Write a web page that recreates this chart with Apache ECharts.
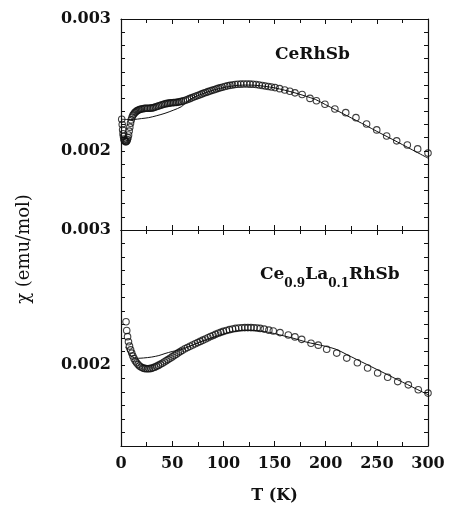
<!DOCTYPE html>
<html>
<head>
<meta charset="utf-8">
<script src="https://cdn.jsdelivr.net/npm/echarts@6/dist/echarts.min.js"></script>
<style>html,body{margin:0;padding:0;background:#fff}#c{width:450px;height:517px}</style>
</head>
<body>
<div id="c"></div>
<script>
// CeRhSb measured points (T in K, chi in emu/mol)
var topT = [0.7,1.2,1.6,2.0,2.4,2.8,3.3,3.8,4.4,5.0,5.6,6.2,6.8,7.4,8.0,8.6,9.3,10.0,10.8,11.6,12.5,13.5,14.5,15.5,16.6,17.7,18.8,20,21.5,23,24.5,26,27.5,29,30.5,32,33.5,35,36.5,38,39.5,41,42.5,44,45.5,47,48.5,50,51.5,53,54.5,56,57.5,59,61,63,65,67,69,71,73,75,77,79,81,83,85,87,89,91,93,95,97,99,101.5,104,106.5,109,111.5,114,117,120,123,126,129,132,135,138,141,144,147,150.5,155,160,165,170,177,184.7,191,199.3,209,219.6,229.6,240,249.9,259.6,269.4,279.8,289.9,300];
var topChi = [0.00224,0.0022,0.00216,0.00213,0.00211,0.00209,0.00208,0.002075,0.00207,0.00207,0.002075,0.002085,0.0021,0.00212,0.00215,0.00218,0.00221,0.002235,0.002255,0.00227,0.00228,0.00229,0.002297,0.002303,0.002308,0.002312,0.002316,0.002318,0.00232,0.002322,0.002323,0.002323,0.002323,0.002324,0.002326,0.002328,0.002332,0.002336,0.00234,0.002344,0.002348,0.002352,0.002355,0.002358,0.00236,0.002362,0.002364,0.002365,0.002366,0.002367,0.002368,0.00237,0.002372,0.002375,0.002379,0.002384,0.00239,0.002396,0.002402,0.002408,0.002414,0.00242,0.002426,0.002432,0.002438,0.002443,0.002449,0.002454,0.002459,0.002464,0.002469,0.002474,0.002479,0.002483,0.002488,0.002493,0.002497,0.0025,0.002503,0.002505,0.002506,0.002507,0.002507,0.002506,0.002505,0.002503,0.0025,0.002496,0.002492,0.002488,0.002484,0.00248,0.002472,0.002462,0.002452,0.00244,0.002427,0.002398,0.00238,0.002353,0.002318,0.00229,0.002252,0.002204,0.002159,0.002113,0.002076,0.002045,0.002015,0.001983];
// CeRhSb calculated curve
var topFitT = [0,6,12,20,27,35,43,51,59,65,70,80,90,100,110,120,130,140,150,160,170,180,190,200,210,220,230,240,250,260,270,280,290,300];
var topFitChi = [0.00224,0.002238,0.002238,0.002245,0.002252,0.002267,0.002285,0.002308,0.002335,0.002375,0.002402,0.002434,0.00246,0.00248,0.002493,0.002499,0.002498,0.00249,0.002478,0.00246,0.00244,0.002416,0.00239,0.00235,0.00231,0.00227,0.00223,0.00219,0.002148,0.002108,0.002068,0.002027,0.001986,0.001945];
// Ce0.9La0.1RhSb measured points
var botT = [4.9,5.6,6.4,7.3,8.3,9.4,10.5,11.6,12.8,14,15.3,16.7,18.1,19.6,21.1,22.7,24.3,26,27.7,29.4,31.1,32.9,34.7,36.5,38.4,40.3,42.2,44.1,46,48,50,52,54,56,58,60,62.5,65,67.5,70,72.5,75,77.5,80,82.5,85,87.5,90,92.5,95,97.5,100,103,106,109,112,115,118,121,124,127,130,133,136,140,144.5,148.8,155.4,163.5,170,176.6,185.7,192.8,201,210.8,220.6,231,241,250.8,260.6,270.4,280.8,290.5,300];
var botChi = [0.00232,0.002256,0.00221,0.002172,0.00214,0.002112,0.002088,0.002066,0.002047,0.00203,0.002016,0.002003,0.001993,0.001985,0.001979,0.001975,0.001973,0.001972,0.001973,0.001975,0.001979,0.001984,0.00199,0.001997,0.002005,0.002013,0.002022,0.002031,0.00204,0.00205,0.00206,0.00207,0.00208,0.00209,0.0021,0.002109,0.00212,0.00213,0.002139,0.002148,0.002157,0.002166,0.002175,0.002184,0.002193,0.002202,0.002211,0.002219,0.002227,0.002235,0.002242,0.002249,0.002256,0.002262,0.002267,0.002271,0.002274,0.002276,0.002277,0.002277,0.002277,0.002276,0.002274,0.002271,0.002266,0.002258,0.002252,0.00224,0.002222,0.002208,0.00219,0.002161,0.002147,0.002117,0.002088,0.002051,0.002017,0.001978,0.001941,0.001909,0.001877,0.001853,0.001817,0.001792];
// Ce0.9La0.1RhSb calculated curve
var botFitT = [4.5,6,8,10,13,17,22,30,37,43,50,55,60,70,80,90,100,110,120,130,140,150,160,170,180,190,200,210,220,230,240,250,260,270,280,290,300];
var botFitChi = [0.002135,0.00211,0.002085,0.002065,0.002052,0.00205,0.002052,0.002059,0.00207,0.002085,0.0021,0.002108,0.002117,0.002148,0.002178,0.002205,0.00223,0.002248,0.002257,0.002256,0.002248,0.002233,0.002214,0.002195,0.002172,0.002155,0.002138,0.002117,0.00208,0.002042,0.002005,0.001967,0.00193,0.001892,0.001855,0.001817,0.00178];
var xTicks = {min: 0, max: 300, interval: 50};
var yTicks = {min: 0.0014, max: 0.003, interval: 0.0001, labeled: [0.002, 0.003]};

function pairs(a, b) { return a.map(function (v, i) { return [v, b[i]]; }); }

var FONT = 'DejaVu Serif';
var chart = echarts.init(document.getElementById('c'), null, {renderer: 'canvas'});

function xAx(grid, pos, labels) {
  return {
    type: 'value', gridIndex: grid, position: pos,
    min: xTicks.min, max: xTicks.max, interval: xTicks.interval,
    axisLine: {show: true, onZero: false, lineStyle: {color: '#111', width: 1.2}},
    axisTick: {show: true, inside: true, length: 5, lineStyle: {color: '#111', width: 1}},
    minorTick: {show: true, splitNumber: 2, length: 4, lineStyle: {color: '#111', width: 1}},
    splitLine: {show: false},
    axisLabel: {show: labels, color: '#111', fontFamily: FONT, fontWeight: 'bold', fontSize: 16, margin: 10},
    name: labels ? 'T (K)' : '', nameLocation: 'middle', nameGap: 42,
    nameTextStyle: {color: '#111', fontFamily: FONT, fontWeight: 'bold', fontSize: 16}
  };
}
function yAx(grid, pos, labels) {
  return {
    type: 'value', gridIndex: grid, position: pos,
    min: yTicks.min, max: yTicks.max, interval: yTicks.interval,
    axisLine: {show: true, onZero: false, lineStyle: {color: '#111', width: 1.2}},
    axisTick: {show: true, inside: true, length: 4, lineStyle: {color: '#111', width: 1}},
    splitLine: {show: false},
    axisLabel: {
      show: labels, color: '#111', fontFamily: FONT, fontWeight: 'bold', fontSize: 16, margin: 10,
      showMinLabel: true, showMaxLabel: true,
      formatter: function (v) {
        for (var i = 0; i < yTicks.labeled.length; i++) {
          if (Math.abs(v - yTicks.labeled[i]) < 1e-9) return yTicks.labeled[i].toFixed(3);
        }
        return '';
      }
    }
  };
}

var circleStyle = {color: 'rgba(0,0,0,0)', borderColor: '#111', borderWidth: 1.1};

chart.setOption({
  animation: false,
  backgroundColor: '#fff',
  grid: [
    {left: 121, top: 19, width: 307, height: 211},
    {left: 121, top: 230, width: 307, height: 216}
  ],
  xAxis: [xAx(0, 'bottom', false), xAx(0, 'top', false), xAx(1, 'bottom', true), xAx(1, 'top', false)],
  yAxis: [yAx(0, 'left', true), yAx(0, 'right', false), yAx(1, 'left', true), yAx(1, 'right', false)],
  series: [
    {type: 'scatter', xAxisIndex: 0, yAxisIndex: 0, data: pairs(topT, topChi), symbol: 'circle', symbolSize: 6.5, itemStyle: circleStyle, z: 2},
    {type: 'line', xAxisIndex: 0, yAxisIndex: 0, data: pairs(topFitT, topFitChi), symbol: 'none', smooth: 0.3, lineStyle: {color: '#111', width: 1}, z: 3},
    {type: 'scatter', xAxisIndex: 2, yAxisIndex: 2, data: pairs(botT, botChi), symbol: 'circle', symbolSize: 6.5, itemStyle: circleStyle, z: 2},
    {type: 'line', xAxisIndex: 2, yAxisIndex: 2, data: pairs(botFitT, botFitChi), symbol: 'none', smooth: 0.3, lineStyle: {color: '#111', width: 1}, z: 3}
  ],
  graphic: [
    {type: 'text', left: 275, top: 46, style: {text: 'CeRhSb', fill: '#111', font: 'bold 17px "DejaVu Serif"'}},
    {type: 'text', left: 260, top: 266, style: {
      text: '{m|Ce}{s|0.9}{m|La}{s|0.1}{m|RhSb}',
      rich: {
        m: {fill: '#111', fontFamily: FONT, fontWeight: 'bold', fontSize: 17, lineHeight: 20, verticalAlign: 'top'},
        s: {fill: '#111', fontFamily: FONT, fontWeight: 'bold', fontSize: 12, lineHeight: 20, verticalAlign: 'top', padding: [12, 0, 0, 0]}
      }
    }},
    {type: 'text', x: 24, y: 249, rotation: Math.PI / 2, style: {
      text: 'χ (emu/mol)', fill: '#111', font: '18px "DejaVu Serif"', textAlign: 'center', textVerticalAlign: 'middle'
    }}
  ]
});
</script>
</body>
</html>
